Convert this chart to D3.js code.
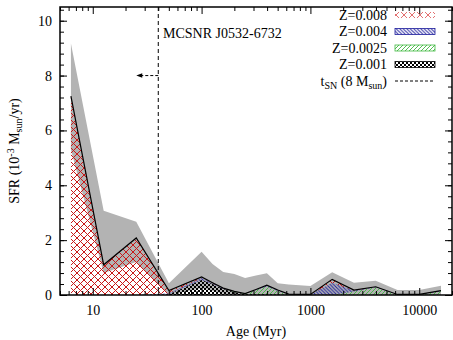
<!DOCTYPE html>
<html>
<head>
<meta charset="utf-8">
<script src="https://cdn.jsdelivr.net/npm/d3@7"></script>
<style>
  body { margin: 0; background: #fff; }
  svg text { font-family: "Liberation Serif", "Times New Roman", serif; font-size: 14px; fill: #000; }
</style>
</head>
<body>
<script>
// ages (Myr) of the SFH bins
const ages = [6.3, 12.6, 25.1, 50.1, 100, 126, 158, 200, 251, 316, 398, 501, 631, 794, 1000, 1585, 2512, 3981, 6310, 10000, 15849];
// SFR per metallicity (10^-3 Msun/yr), stacked
const z008  = [7.25, 1.10, 2.08, 0.10, 0.04, 0.02, 0.01, 0, 0, 0, 0, 0, 0, 0, 0, 0.12, 0.02, 0, 0, 0, 0];
const z004  = [0, 0, 0, 0.03, 0.07, 0.03, 0.02, 0, 0, 0.02, 0.05, 0.03, 0, 0, 0, 0.45, 0.03, 0.02, 0, 0, 0.02];
const z0025 = [0, 0, 0, 0, 0, 0, 0, 0.03, 0.02, 0.15, 0.28, 0.13, 0.02, 0.01, 0.01, 0, 0.13, 0.28, 0.02, 0.01, 0.14];
const z001  = [0, 0, 0, 0.03, 0.55, 0.40, 0.22, 0.10, 0.03, 0.03, 0.03, 0.02, 0.01, 0.01, 0.01, 0, 0, 0, 0, 0.01, 0];
// uncertainty band
const upper = [9.17, 3.07, 2.67, 0.43, 1.58, 1.13, 0.84, 0.77, 0.62, 0.71, 0.79, 0.43, 0.38, 0.36, 0.33, 0.83, 0.45, 0.52, 0.18, 0.18, 0.34];
const lower = [5.3, 0.8, 1.2, 0.0, 0.25, 0.15, 0.05, 0, 0, 0, 0, 0, 0, 0, 0, 0, 0, 0, 0, 0, 0];

const tSN = 40; // Myr, lifetime of 8 Msun star
const xTicks = [10, 100, 1000, 10000];
const yTicks = [0, 2, 4, 6, 8, 10];

const W = 453, H = 340;
const L = 60, R = 452, T = 7, B = 295;
const FONT = "'Liberation Serif', 'Times New Roman', serif";

const svg = d3.select("body").append("svg")
    .attr("width", W).attr("height", H);

const x = d3.scaleLog().domain([5, 20000]).range([L, R]);
const y = d3.scaleLinear().domain([0, 10.5]).range([B, T]);

// hatch patterns
const defs = svg.append("defs");
const red = defs.append("pattern").attr("id", "pRed").attr("patternUnits", "userSpaceOnUse")
    .attr("width", 7).attr("height", 7);
red.append("path").attr("d", "M0,0L7,7M0,7L7,0").attr("stroke", "#c81818").attr("stroke-width", 1);

const redL = defs.append("pattern").attr("id", "pRedL").attr("patternUnits", "userSpaceOnUse")
    .attr("width", 8).attr("height", 6).attr("y", 12);
redL.append("path").attr("d", "M1,0L7,6M1,6L7,0").attr("stroke", "#e06060").attr("stroke-width", 0.9);

const blue = defs.append("pattern").attr("id", "pBlue").attr("patternUnits", "userSpaceOnUse")
    .attr("width", 3.5).attr("height", 3.5);
blue.append("path").attr("d", "M-1,-1L4.5,4.5M-1,2.5L1,4.5M2.5,-1L4.5,1").attr("stroke", "#1c1c9c").attr("stroke-width", 0.9);

const green = defs.append("pattern").attr("id", "pGreen").attr("patternUnits", "userSpaceOnUse")
    .attr("width", 4).attr("height", 4);
green.append("path").attr("d", "M-1,5L5,-1M-1,1L1,-1M3,5L5,3").attr("stroke", "#40b840").attr("stroke-width", 0.9);

const chk = defs.append("pattern").attr("id", "pChk").attr("patternUnits", "userSpaceOnUse")
    .attr("width", 4).attr("height", 4);
chk.append("rect").attr("width", 2).attr("height", 2).attr("fill", "#000");
chk.append("rect").attr("x", 2).attr("y", 2).attr("width", 2).attr("height", 2).attr("fill", "#000");

// grey uncertainty band
const band = ages.map((a, i) => ({a, lo: lower[i], hi: upper[i]}));
svg.append("path")
    .datum(band)
    .attr("fill", "#b3b3b3")
    .attr("d", d3.area().x(d => x(d.a)).y0(d => y(d.lo)).y1(d => y(d.hi)));

// stacked metallicity components
const rows = ages.map((a, i) => ({a, z001: z001[i], z0025: z0025[i], z004: z004[i], z008: z008[i]}));
const keys = ["z001", "z0025", "z004", "z008"];
const fills = {z001: "url(#pChk)", z0025: "url(#pGreen)", z004: "url(#pBlue)", z008: "url(#pRed)"};
const stack = d3.stack().keys(keys)(rows);
const area = d3.area().x(d => x(d.data.a)).y0(d => y(d[0])).y1(d => y(d[1]));
svg.selectAll(".layer").data(stack).enter().append("path")
    .attr("class", "layer")
    .attr("fill", d => fills[d.key])
    .attr("d", area);

// total SFR
const total = rows.map(r => ({a: r.a, v: r.z001 + r.z0025 + r.z004 + r.z008}));
svg.append("path")
    .datum(total)
    .attr("fill", "none").attr("stroke", "#000").attr("stroke-width", 1.2)
    .attr("d", d3.line().x(d => x(d.a)).y(d => y(d.v)));

// t_SN line and arrow
svg.append("line")
    .attr("x1", x(tSN)).attr("x2", x(tSN)).attr("y1", T).attr("y2", B)
    .attr("stroke", "#000").attr("stroke-width", 1).attr("stroke-dasharray", "4,3");
svg.append("line")
    .attr("x1", x(tSN)).attr("x2", x(tSN) - 17).attr("y1", y(8)).attr("y2", y(8))
    .attr("stroke", "#000").attr("stroke-width", 1).attr("stroke-dasharray", "3,2");
svg.append("path")
    .attr("d", `M${x(tSN) - 22},${y(8)}l6,-2.2l0,4.4z`)
    .attr("fill", "#000");

svg.append("text").attr("x", 163).attr("y", 38).text("MCSNR J0532-6732");

// axes with inward ticks
const xMinor = [];
[1, 10, 100, 1000, 10000].forEach(d => { for (let k = 2; k <= 9; k++) if (d * k >= 5 && d * k <= 20000) xMinor.push(d * k); });
const yMinor = d3.range(0, 10.5, 0.4);

const ax = (gen, tr) => {
  const g = svg.append("g").attr("transform", tr).call(gen)
      .attr("font-family", FONT).attr("font-size", 14);
  g.select(".domain").remove();
  g.selectAll("line").attr("stroke-width", 1);
  return g;
};
ax(d3.axisBottom(x).tickValues(xTicks).tickSize(-7).tickPadding(10).tickFormat(d3.format("d")), `translate(0,${B})`);
ax(d3.axisBottom(x).tickValues(xMinor).tickSize(-4).tickFormat(""), `translate(0,${B})`);
ax(d3.axisTop(x).tickValues(xTicks).tickSize(-7).tickFormat(""), `translate(0,${T})`);
ax(d3.axisTop(x).tickValues(xMinor).tickSize(-4).tickFormat(""), `translate(0,${T})`);
ax(d3.axisLeft(y).tickValues(yTicks).tickSize(-7).tickPadding(8), `translate(${L},0)`);
ax(d3.axisLeft(y).tickValues(yMinor).tickSize(-4).tickFormat(""), `translate(${L},0)`);
ax(d3.axisRight(y).tickValues(yTicks).tickSize(-7).tickFormat(""), `translate(${R},0)`);
ax(d3.axisRight(y).tickValues(yMinor).tickSize(-4).tickFormat(""), `translate(${R},0)`);

// frame
svg.append("rect")
    .attr("x", L).attr("y", T).attr("width", R - L).attr("height", B - T)
    .attr("fill", "none").attr("stroke", "#000").attr("stroke-width", 1.5);

// axis titles
svg.append("text").attr("x", (L + R) / 2).attr("y", 336).attr("text-anchor", "middle").text("Age (Myr)");
const yl = svg.append("text").attr("transform", `translate(19,${(T + B) / 2}) rotate(-90)`).attr("text-anchor", "middle");
yl.append("tspan").text("SFR (10");
yl.append("tspan").attr("dy", -5).style("font-size", "10px").text("-3");
yl.append("tspan").attr("dy", 5).text(" M");
yl.append("tspan").attr("dy", 3).style("font-size", "10px").text("sun");
yl.append("tspan").attr("dy", -3).text("/yr)");

// legend
const legY = [15, 31.5, 48, 64.5];
const legLab = ["Z=0.008", "Z=0.004", "Z=0.0025", "Z=0.001"];
const legFill = ["url(#pRedL)", "url(#pBlue)", "url(#pGreen)", "url(#pChk)"];
const legStroke = ["none", "#1c1c9c", "#40b840", "#000"];
legLab.forEach((t, i) => {
  svg.append("text").attr("x", 387).attr("y", legY[i]).attr("dy", "0.35em")
    .attr("text-anchor", "end").text(t);
  svg.append("rect").attr("x", 395).attr("y", legY[i] - 3).attr("width", 40).attr("height", 6)
    .attr("fill", legFill[i]).attr("stroke", legStroke[i]).attr("stroke-width", 0.8);
});
const lt = svg.append("text").attr("x", 387).attr("y", 81).attr("dy", "0.35em").attr("text-anchor", "end");
lt.append("tspan").text("t");
lt.append("tspan").attr("dy", 3).style("font-size", "10px").text("SN");
lt.append("tspan").attr("dy", -3).text(" (8 M");
lt.append("tspan").attr("dy", 3).style("font-size", "10px").text("sun");
lt.append("tspan").attr("dy", -3).text(")");
svg.append("line").attr("x1", 395).attr("x2", 435).attr("y1", 81).attr("y2", 81)
    .attr("stroke", "#000").attr("stroke-width", 1).attr("stroke-dasharray", "3,2");
</script>
</body>
</html>
